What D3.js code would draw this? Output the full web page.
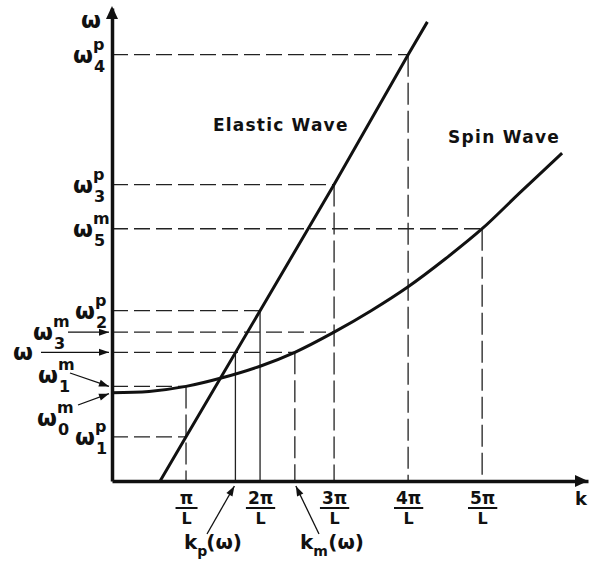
<!DOCTYPE html>
<html>
<head>
<meta charset="utf-8">
<script src="https://cdn.jsdelivr.net/npm/d3@7"></script>
<style>
  html, body { margin: 0; padding: 0; background: #fff; }
  svg { display: block; }
  text { font-family: "DejaVu Sans", sans-serif; font-weight: bold; fill: #111; }
</style>
</head>
<body>
<svg id="chart" width="589" height="567"></svg>
<script>
// Wave numbers in units of pi/L, frequencies in arbitrary units.
const kTicks = [1, 2, 3, 4, 5];
const kTickNumerators = ["π", "2π", "3π", "4π", "5π"];
const kTickDenominator = "L";

// Elastic (phonon) branch: straight line.
const elasticK = [0.65, 1, 2, 3, 4, 4.26];
const elasticW = [0, 0.35, 1.35, 2.35, 3.38, 3.64];

// Spin-wave branch: quadratic-looking dispersion.
const spinK = [0, 0.5, 1, 1.5, 2, 2.47, 3, 3.5, 4, 4.5, 5, 5.5, 6.08];
const spinW = [0.70, 0.71, 0.75, 0.82, 0.91, 1.02, 1.18, 1.35, 1.54, 1.76, 2.00, 2.28, 2.60];

// Marked frequency levels (horizontal guides) and where they end.
const levelW = [3.38, 2.35, 2.00, 1.35, 1.18, 1.02, 0.75, 0.35];
const levelK = [4, 3, 5, 2, 3, 2.47, 1, 1];

// Vertical guides: wave number and the frequency they rise to.
const vertK = [1, 1.667, 2, 2.47, 3, 4, 5];
const vertW = [0.75, 1.02, 1.35, 1.02, 2.35, 3.38, 2.00];

// Frequency labels: symbol superscript and subscript.
const labelSup = ["p", "p", "m", "p", "m", "", "m", "m", "p"];
const labelSub = ["4", "3", "5", "2", "3", "", "1", "0", "1"];
const labelW   = [3.38, 2.35, 2.00, 1.35, 1.18, 1.02, 0.75, 0.70, 0.35];

const svg = d3.select("#chart");
const x = d3.scaleLinear().domain([0, 6.43]).range([112, 588]);
const y = d3.scaleLinear().domain([0, 3.75]).range([481, 8]);

// Guides
const solidVert = new Set([1, 2]);
svg.append("g").selectAll("line").data(levelW).join("line")
  .attr("x1", x(0)).attr("x2", (d, i) => x(levelK[i]))
  .attr("y1", d => y(d)).attr("y2", d => y(d))
  .attr("stroke", "#222").attr("stroke-width", 1.3)
  .attr("stroke-dasharray", "16,6");
svg.append("g").selectAll("line").data(vertK).join("line")
  .attr("x1", d => x(d)).attr("x2", d => x(d))
  .attr("y1", (d, i) => y(vertW[i])).attr("y2", y(0))
  .attr("stroke", "#222").attr("stroke-width", 1.3)
  .attr("stroke-dasharray", (d, i) => solidVert.has(i) ? null : "22,6");

// Axes
const xAxis = d3.axisBottom(x).tickValues(kTicks).tickSize(0).tickSizeOuter(0).tickFormat("");
const gx = svg.append("g").attr("transform", `translate(0,${y(0)})`).call(xAxis);
gx.select(".domain").attr("stroke", "#111").attr("stroke-width", 3.5);
const yAxis = d3.axisLeft(y).tickValues([]).tickSizeOuter(0);
const gy = svg.append("g").attr("transform", `translate(${x(0)},0)`).call(yAxis);
gy.select(".domain").attr("stroke", "#111").attr("stroke-width", 3.5);

// Axis arrowheads
svg.append("path").attr("d", `M${x(0)},${y(3.75) - 2} l-6,13 l12,0 z`).attr("fill", "#111");
svg.append("path").attr("d", `M${x(6.43)},${y(0)} l-13,-6 l0,12 z`).attr("fill", "#111");

// Fraction tick labels
gx.selectAll(".tick").each(function (d, i) {
  const g = d3.select(this);
  const num = g.append("text").attr("x", 0).attr("y", 23).attr("text-anchor", "middle")
    .attr("font-size", 17).text(kTickNumerators[i]);
  const w = Math.max(num.node().getComputedTextLength(), 18);
  g.append("line").attr("x1", -w / 2 - 2).attr("x2", w / 2 + 2).attr("y1", 27).attr("y2", 27)
    .attr("stroke", "#111").attr("stroke-width", 2);
  g.append("text").attr("x", 0).attr("y", 43).attr("text-anchor", "middle")
    .attr("font-size", 16).text(kTickDenominator);
});
svg.append("text").attr("x", 575).attr("y", 505).attr("font-size", 18).text("k");
svg.append("text").attr("x", 81).attr("y", 28).attr("font-size", 23).text("ω");

// Dispersion curves
const line = d3.line().x(d => x(d[0])).y(d => y(d[1]));
svg.append("path").datum(elasticK.map((k, i) => [k, elasticW[i]]))
  .attr("d", line).attr("fill", "none").attr("stroke", "#111").attr("stroke-width", 3);
svg.append("path").datum(spinK.map((k, i) => [k, spinW[i]]))
  .attr("d", line.curve(d3.curveCatmullRom)).attr("fill", "none")
  .attr("stroke", "#111").attr("stroke-width", 3);

svg.append("text").attr("x", 213).attr("y", 131).attr("font-size", 17).attr("letter-spacing", 1.2).text("Elastic Wave");
svg.append("text").attr("x", 448).attr("y", 143).attr("font-size", 17).attr("letter-spacing", 1.3).text("Spin Wave");

// Frequency labels on the left
const labelPos = [
  [73, 0], [73, 0], [73, 0], [75, 0], [33, 0], [13, 0], [38, -11], [37, 25], [75, 0]
];
const labels = svg.append("g");
labelW.forEach((w, i) => {
  const lx = labelPos[i][0];
  const ly = y(w) + labelPos[i][1];
  const t = labels.append("text").attr("x", lx).attr("y", ly + 8).attr("font-size", 23).text("ω");
  const tw = t.node().getComputedTextLength();
  if (labelSup[i]) labels.append("text").attr("x", lx + tw).attr("y", ly - 5)
    .attr("font-size", 16).text(labelSup[i]);
  if (labelSub[i]) labels.append("text").attr("x", lx + tw + 1).attr("y", ly + 17)
    .attr("font-size", 16).text(labelSub[i]);
});

// Pointer arrows
function pointer(x1, y1, x2, y2) {
  svg.append("line").attr("x1", x1).attr("y1", y1).attr("x2", x2).attr("y2", y2)
    .attr("stroke", "#111").attr("stroke-width", 1.3);
  const a = Math.atan2(y2 - y1, x2 - x1), L = 10, h = 3.5;
  const bx = x2 - L * Math.cos(a), by = y2 - L * Math.sin(a);
  svg.append("path").attr("d",
    `M${x2},${y2} L${bx - h * Math.sin(a)},${by + h * Math.cos(a)} L${bx + h * Math.sin(a)},${by - h * Math.cos(a)} Z`)
    .attr("fill", "#111");
}
pointer(68, y(1.18), x(0) - 3, y(1.18));
pointer(41, y(1.02), x(0) - 3, y(1.02));
pointer(70, 373, x(0) - 3, y(0.75));
pointer(78, 405, x(0) - 3, y(0.70) + 1);
pointer(207, 534, x(1.667) - 1, y(0) + 5);
pointer(319, 534, x(2.47) + 1, y(0) + 5);

// Wave-number labels under the axis
function kLabel(x0, sub) {
  const t = svg.append("text").attr("x", x0).attr("y", 549).attr("font-size", 20).text("k");
  const w = t.node().getComputedTextLength();
  svg.append("text").attr("x", x0 + w).attr("y", 556).attr("font-size", 14).text(sub);
  return svg.append("text").attr("x", x0 + w + (sub === "p" ? 9 : 15)).attr("y", 549).attr("font-size", 20).text("(ω)");
}
kLabel(184, "p");
kLabel(300, "m");
</script>
</body>
</html>
